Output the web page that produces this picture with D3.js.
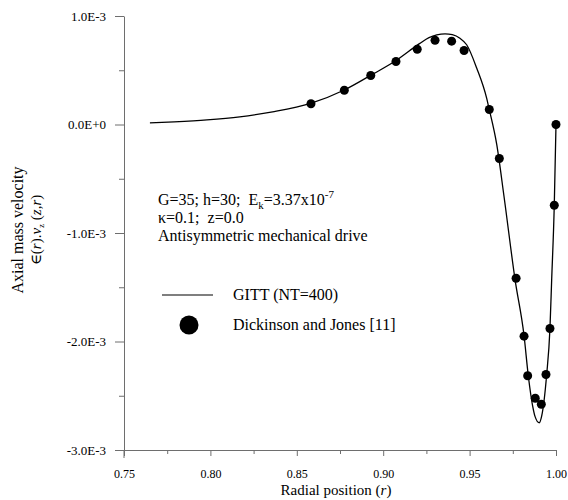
<!DOCTYPE html>
<html>
<head>
<meta charset="utf-8">
<script src="https://cdn.jsdelivr.net/npm/d3@7"></script>
<style>
  html, body { margin: 0; padding: 0; background: #fff; }
  svg text { font-family: "Times New Roman", Times, "Liberation Serif", "Nimbus Roman", "DejaVu Serif", serif; fill: #000; }
</style>
</head>
<body>
<svg id="chart" width="568" height="500"></svg>
<script>
// ---- Data ----
// GITT (NT=400) solution curve: radial position and axial mass velocity
const curveR = [0.765, 0.779, 0.798, 0.817, 0.836, 0.858, 0.8775, 0.893, 0.907, 0.921, 0.9265,
  0.931, 0.9358, 0.940, 0.9444, 0.9483, 0.9541, 0.9599, 0.9612, 0.9657, 0.9699, 0.9763, 0.9815,
  0.984, 0.9865, 0.9878, 0.9903, 0.9917, 0.9946, 0.9965, 0.9975, 0.999, 1.0];
const curveV = [0.015e-3, 0.025e-3, 0.043e-3, 0.071e-3, 0.117e-3, 0.195e-3, 0.318e-3, 0.455e-3,
  0.585e-3, 0.745e-3, 0.800e-3, 0.826e-3, 0.836e-3, 0.828e-3, 0.795e-3, 0.735e-3, 0.520e-3, 0.240e-3,
  0.150e-3, -0.184e-3, -0.661e-3, -1.429e-3, -1.945e-3, -2.320e-3, -2.596e-3, -2.688e-3,
  -2.749e-3, -2.688e-3, -2.304e-3, -1.880e-3, -1.429e-3, -0.744e-3, 0.0];

// Dickinson and Jones [11] data points
const pointR = [0.8582, 0.8775, 0.8928, 0.9074, 0.9197, 0.930, 0.9396, 0.9468, 0.9614, 0.9672,
  0.9769, 0.9815, 0.9836, 0.988, 0.9915, 0.9942, 0.9965, 0.999, 1.0];
const pointV = [0.191e-3, 0.316e-3, 0.452e-3, 0.581e-3, 0.694e-3, 0.777e-3, 0.768e-3, 0.682e-3,
  0.138e-3, -0.313e-3, -1.417e-3, -1.951e-3, -2.316e-3, -2.523e-3, -2.578e-3, -2.304e-3,
  -1.880e-3, -0.744e-3, 0.0];

// Ticks
const xMajorTicks = [0.75, 0.80, 0.85, 0.90, 0.95, 1.00];
const xMinorTicks = [0.775, 0.825, 0.875, 0.925, 0.975];
const yMajorTicks = [-3e-3, -2e-3, -1e-3, 0, 1e-3];
const yMajorLabels = ["-3.0E-3", "-2.0E-3", "-1.0E-3", "0.0E+0", "1.0E-3"];
const yMinorTicks = [-2.5e-3, -1.5e-3, -0.5e-3, 0.5e-3];

const legendLabels = ["GITT (NT=400)", "Dickinson and Jones [11]"];

// ---- Drawing ----
const FONT = '"Times New Roman", Times, "Liberation Serif", "Nimbus Roman", "DejaVu Serif", serif';
const svg = d3.select("#chart");
const axisColor = "#6e6e6e";

const x = d3.scaleLinear().domain([0.75, 1.0]).range([124, 556]);
const y = d3.scaleLinear().domain([-3e-3, 1e-3]).range([450, 16]);

// X axis
const gx = svg.append("g").attr("transform", `translate(0,${y(-3e-3)})`);
gx.call(d3.axisBottom(x).tickValues(xMajorTicks).tickSize(6).tickSizeOuter(0)
  .tickFormat(d3.format(".2f")));
gx.append("g").call(d3.axisBottom(x).tickValues(xMinorTicks).tickSize(4).tickFormat(""))
  .select(".domain").remove();
gx.selectAll("path, line").attr("stroke", axisColor);
gx.selectAll("text").attr("font-size", 12).attr("font-family", FONT)
  .attr("dy", "0.71em").attr("y", 19);

// Y axis
const gy = svg.append("g").attr("transform", `translate(${x(0.75)},0)`);
gy.call(d3.axisLeft(y).tickValues(yMajorTicks).tickSize(9).tickSizeOuter(0)
  .tickFormat((d, i) => yMajorLabels[i]));
gy.append("g").call(d3.axisLeft(y).tickValues(yMinorTicks).tickSize(5).tickFormat(""))
  .select(".domain").remove();
gy.selectAll("path, line").attr("stroke", axisColor);
gy.selectAll("text").attr("font-size", 13).attr("font-family", FONT).attr("x", -18);
gy.append("line").attr("x1", 0).attr("x2", 0).attr("y1", y(-3e-3)).attr("y2", y(-3e-3) + 8)
  .attr("stroke", axisColor);

// Curve
const curveData = curveR.map((r, i) => [r, curveV[i]]);
svg.append("path")
  .datum(curveData)
  .attr("fill", "none")
  .attr("stroke", "#000")
  .attr("stroke-width", 1.3)
  .attr("d", d3.line().x(d => x(d[0])).y(d => y(d[1])).curve(d3.curveMonotoneX));

// Points
const pts = pointR.map((r, i) => [r, pointV[i]]);
svg.append("g").selectAll("circle").data(pts).join("circle")
  .attr("cx", d => x(d[0])).attr("cy", d => y(d[1])).attr("r", 4.5).attr("fill", "#000");

// Axis titles
svg.append("text").attr("x", 336).attr("y", 495).attr("text-anchor", "middle")
  .attr("font-size", 15).attr("font-family", FONT)
  .html('Radial position (<tspan font-style="italic">r</tspan>)');

const yt = svg.append("g").attr("transform", "translate(0,230) rotate(-90)");
yt.append("text").attr("x", 0).attr("y", 23).attr("text-anchor", "middle").attr("font-size", 16)
  .attr("font-family", FONT).text("Axial mass velocity");
yt.append("text").attr("x", 0).attr("y", 41).attr("text-anchor", "middle").attr("font-size", 15)
  .attr("font-family", FONT)
  .html('∈(<tspan font-style="italic">r</tspan>).<tspan font-style="italic">v</tspan><tspan font-size="9" dy="3">z</tspan><tspan dy="-3"> (</tspan><tspan font-style="italic">z,r</tspan>)');

// Annotation
const ann = svg.append("g");
ann.append("text").attr("x", 158).attr("y", 205).attr("font-size", 16).attr("font-family", FONT)
  .attr("xml:space", "preserve")
  .html('G=35; h=30;  E<tspan font-size="11" dy="4">k</tspan><tspan dy="-4">=3.37x10</tspan><tspan font-size="11" dy="-7">-7</tspan>');
ann.append("text").attr("x", 158).attr("y", 223).attr("font-size", 16).attr("font-family", FONT)
  .attr("xml:space", "preserve").text("κ=0.1;  z=0.0");
ann.append("text").attr("x", 158).attr("y", 241).attr("font-size", 16).attr("font-family", FONT)
  .text("Antisymmetric mechanical drive");

// Legend
svg.append("line").attr("x1", 162).attr("x2", 213).attr("y1", 295).attr("y2", 295)
  .attr("stroke", "#000").attr("stroke-width", 1.2);
svg.append("text").attr("x", 233).attr("y", 300).attr("font-size", 16).attr("font-family", FONT)
  .text(legendLabels[0]);
svg.append("circle").attr("cx", 189).attr("cy", 325).attr("r", 9.5).attr("fill", "#000");
svg.append("text").attr("x", 233).attr("y", 330).attr("font-size", 16).attr("font-family", FONT)
  .text(legendLabels[1]);
</script>
</body>
</html>
